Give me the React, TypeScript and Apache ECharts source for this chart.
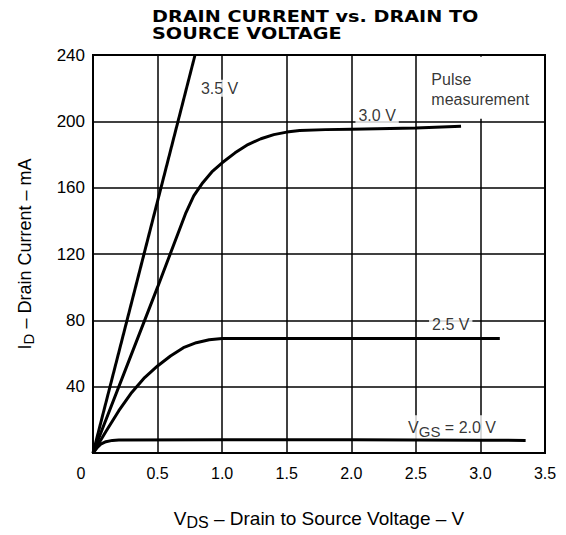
import React, { useEffect, useRef } from "react";
import * as echarts from "echarts";

const xTicks = [0, 0.5, 1.0, 1.5, 2.0, 2.5, 3.0, 3.5];
const yTicks = [0, 40, 80, 120, 160, 200, 240];

const vgs20: [number, number][] = [
  [0, 0], [0.03, 3], [0.06, 5.3], [0.1, 6.8], [0.15, 7.6], [0.2, 7.9], [1.0, 8.0], [2.0, 8.0], [3.0, 7.7], [3.35, 7.6],
];
const vgs25: [number, number][] = [
  [0, 0], [0.1, 13], [0.2, 25.5], [0.3, 36.5], [0.4, 45.5], [0.5, 52.5], [0.6, 58.5], [0.7, 63.5], [0.8, 66.5], [0.9, 68.3], [1.0, 69], [2.0, 69], [3.15, 69],
];
const vgs30: [number, number][] = [
  [0, 0], [0.25, 50], [0.5, 100], [0.72, 145], [0.78, 155], [0.85, 163], [0.92, 169.5], [1.0, 175], [1.1, 181], [1.2, 186], [1.3, 189.5], [1.4, 192], [1.5, 193.5], [1.6, 194.5], [1.8, 195], [2.0, 195.3], [2.5, 196], [2.85, 197],
];
const vgs35: [number, number][] = [
  [0, 0], [0.79, 240],
];

const curveLabels = [
  { value: [0.98, 220], text: "3.5 V" },
  { value: [2.2, 203.6], text: "3.0 V" },
  { value: [2.77, 77.6], text: "2.5 V" },
  { value: [2.78, 15.5], text: "{n|V}{s|GS}{n| = 2.0 V}" },
];
const noteText = "Pulse\nmeasurement";
const titleText = "DRAIN CURRENT vs. DRAIN TO\nSOURCE VOLTAGE";

export default function App() {
  const ref = useRef<HTMLDivElement>(null);
  useEffect(() => {
    if (!ref.current) return;
    const chart = echarts.init(ref.current, undefined, { renderer: "svg" });
    const font = "Liberation Sans";
    const lineStyle = { color: "#000", width: 3 };
    const mk = (data: [number, number][]) => ({
      type: "line",
      data,
      smooth: false,
      showSymbol: false,
      symbol: "none",
      lineStyle,
      z: 5,
      clip: true,
    });
    chart.setOption({
      animation: false,
      backgroundColor: "#fff",
      graphic: [
        {
          type: "text",
          x: 152,
          y: 8,
          scaleX: 1.28,
          style: {
            text: titleText,
            fontFamily: "DejaVu Sans",
            fontWeight: "bold",
            fontSize: 15,
            lineHeight: 17,
            fill: "#000",
            verticalAlign: "top",
          },
        },
      ],
      grid: {
        left: 93,
        top: 55,
        width: 452,
        height: 402,
        show: true,
        borderColor: "#000",
        borderWidth: 2,
        backgroundColor: "transparent",
      },
      xAxis: {
        type: "value",
        min: 0,
        max: 3.5,
        interval: 0.5,
        axisLine: { show: true, lineStyle: { color: "#000", width: 2 } },
        axisTick: { show: false },
        splitLine: { show: true, lineStyle: { color: "#000", width: 1.5 } },
        axisLabel: {
          margin: 12,
          fontFamily: font,
          fontSize: 16,
          color: "#000",
          formatter: (v: number) => (v === 0 ? "{z|0}" : v.toFixed(1)),
          rich: { z: { fontFamily: font, fontSize: 16, color: "#000", padding: [0, 24, 0, 0] } },
        },
        name: "{n|V}{s|DS}{n| – Drain to Source Voltage – V}",
        nameLocation: "middle",
        nameGap: 53,
        nameTextStyle: {
          rich: {
            n: { fontFamily: font, fontSize: 19, color: "#000" },
            s: { fontFamily: font, fontSize: 16, color: "#000", padding: [8, 0, 0, 0] },
          },
        },
      },
      yAxis: {
        type: "value",
        min: 0,
        max: 240,
        interval: 40,
        axisLine: { show: true, lineStyle: { color: "#000", width: 2 } },
        axisTick: { show: false },
        splitLine: { show: true, lineStyle: { color: "#000", width: 1.5 } },
        axisLabel: {
          margin: 8,
          fontFamily: font,
          fontSize: 17,
          color: "#000",
          formatter: (v: number) => (v === 0 ? "" : String(v)),
        },
        name: "{n|I}{s|D}{n| – Drain Current – mA}",
        nameLocation: "middle",
        nameGap: 57,
        nameTextStyle: {
          rich: {
            n: { fontFamily: font, fontSize: 18, color: "#000" },
            s: { fontFamily: font, fontSize: 15, color: "#000", padding: [8, 0, 0, 0] },
          },
        },
      },
      series: [
        {
          ...mk(vgs20),
          markArea: {
            silent: true,
            itemStyle: { color: "#fff" },
            data: [[{ coord: [2.53, 201.5] }, { coord: [3.48, 239] }]],
          },
        },
        mk(vgs25),
        mk(vgs30),
        mk(vgs35),
        {
          type: "scatter",
          symbolSize: 0,
          z: 3,
          data: curveLabels.map((p) => ({ value: p.value, name: p.text })),
          label: {
            show: true,
            position: "inside",
            formatter: (p: any) => p.name,
            fontFamily: font,
            fontSize: 16,
            color: "#000",
            backgroundColor: "#fff",
            padding: [1, 3, 0, 3],
            rich: {
              n: { fontFamily: font, fontSize: 16, color: "#000" },
              s: { fontFamily: font, fontSize: 15, color: "#000", padding: [8, 0, 0, 0] },
            },
          },
        },
        {
          type: "scatter",
          symbolSize: 0,
          z: 6,
          data: [{ value: [2.62, 219], name: noteText }],
          label: {
            show: true,
            position: "right",
            distance: 0,
            formatter: (p: any) => p.name,
            fontFamily: font,
            fontSize: 16,
            lineHeight: 20,
            color: "#000",
          },
        },
      ],
    });
    return () => chart.dispose();
  }, []);
  return (
    <div
      ref={ref}
      style={{ position: "absolute", left: 0, top: 0, width: 566, height: 535 }}
    />
  );
}
